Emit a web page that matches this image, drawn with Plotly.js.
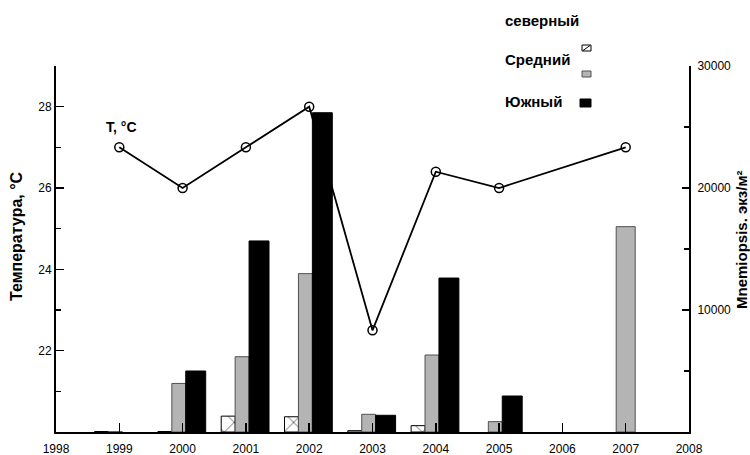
<!DOCTYPE html>
<html><head><meta charset="utf-8">
<script src="https://cdn.plot.ly/plotly-3.0.1.min.js"></script>
<style>html,body{margin:0;padding:0;background:#fff}</style>
</head><body><div id="chart" style="width:750px;height:455px"></div>
<script>
const years = [1999, 2000, 2001, 2002, 2003, 2004, 2005, 2006, 2007];
const seriesNames = ['северный', 'Средний', 'Южный'];
const northern = [40, 40, 1300, 1250, 110, 520, null, null, null];
const middle   = [20, 3980, 6170, 12980, 1450, 6310, 850, null, 16830];
const southern = [null, 5000, 15660, 26170, 1370, 12620, 2950, null, null];
const tempYears  = [1999, 2000, 2001, 2002, 2003, 2004, 2005, 2007];
const tempValues = [27, 26, 27, 28, 22.5, 26.4, 26, 27];
const xTicks = [1998, 1999, 2000, 2001, 2002, 2003, 2004, 2005, 2006, 2007, 2008];
const tempTicks = [22, 24, 26, 28];
const countTicks = [10000, 20000, 30000];
const tempLabel = 'T, °C';
const leftTitle = 'Температура, °C';
const rightTitle = 'Mnemiopsis. экз/м²';

const FONT = 'Liberation Sans, Arial, sans-serif';

// years with only the middle series get a centred, wider bar
const midOnly = years.map((y, i) => northern[i] == null && southern[i] == null);
const midWidth = midOnly.map(o => o ? 0.30 : 0.22);
const midOffset = midOnly.map(o => o ? -0.15 : -0.17);

const traces = [
  {type: 'bar', x: years, y: northern, name: seriesNames[0], yaxis: 'y', xaxis: 'x',
   width: 0.22, offset: -0.39,
   marker: {color: '#ffffff', line: {color: '#000', width: 1},
            pattern: {shape: 'x', size: 14, solidity: 0.08, fgcolor: '#000', bgcolor: '#fff'}}},
  {type: 'bar', x: years, y: middle, name: seriesNames[1], yaxis: 'y', xaxis: 'x',
   width: midWidth, offset: midOffset,
   marker: {color: '#b4b4b4', line: {color: '#505050', width: 1}}},
  {type: 'bar', x: years, y: southern, name: seriesNames[2], yaxis: 'y', xaxis: 'x',
   width: 0.315, offset: 0.05,
   marker: {color: '#000000', line: {color: '#000', width: 1}}},
  {type: 'scatter', mode: 'lines+markers', x: tempYears, y: tempValues, yaxis: 'y2', xaxis: 'x',
   line: {color: '#000', width: 1.8},
   marker: {symbol: 'circle-open', size: 9, color: '#000', line: {color: '#000', width: 1.5}},
   cliponaxis: false}
];

const X0 = 56, X1 = 689, Y0 = 66, Y1 = 432;
const px = v => (v - X0) / (X1 - X0);
const py = v => (Y1 - v) / (Y1 - Y0);

const legendBoxes = [
  {x0: 582, x1: 591, y0: 45, y1: 51, fill: '#fff', line: '#000', diag: true},
  {x0: 582, x1: 591, y0: 71, y1: 77, fill: '#b4b4b4', line: '#505050'},
  {x0: 580, x1: 591, y0: 99, y1: 107, fill: '#000', line: '#000'}
];
const legendText = [
  {x: 503, y: 20}, {x: 503, y: 60}, {x: 503, y: 101}
];

const shapes = [];
legendBoxes.forEach(b => {
  shapes.push({type: 'rect', xref: 'paper', yref: 'paper', x0: px(b.x0), x1: px(b.x1), y0: py(b.y1), y1: py(b.y0),
    fillcolor: b.fill, line: {color: b.line, width: 1}});
  if (b.diag) shapes.push({type: 'line', xref: 'paper', yref: 'paper', x0: px(b.x0 + 1), x1: px(b.x1 - 1), y0: py(b.y1 - 0.5), y1: py(b.y0 + 0.5),
    line: {color: '#000', width: 1}});
});

const annotations = seriesNames.map((n, i) => ({
  text: n, xref: 'paper', yref: 'paper', x: px(legendText[i].x), y: py(legendText[i].y),
  xanchor: 'left', yanchor: 'middle', showarrow: false,
  font: {family: FONT, size: 15, color: '#000', weight: 'bold'}
}));
annotations.push({text: tempLabel, xref: 'paper', yref: 'paper', x: px(104), y: py(127), xanchor: 'left', yanchor: 'middle',
  showarrow: false, font: {family: FONT, size: 14, color: '#000', weight: 'bold'}});
annotations.push({text: leftTitle, xref: 'paper', yref: 'paper', x: px(17), y: py(236), xanchor: 'center', yanchor: 'middle',
  textangle: -90, showarrow: false, font: {family: FONT, size: 16, color: '#000', weight: 'bold'}});
annotations.push({text: rightTitle, xref: 'paper', yref: 'paper', x: px(741), y: py(240), xanchor: 'center', yanchor: 'middle',
  textangle: -90, showarrow: false, font: {family: FONT, size: 15, color: '#000', weight: 'bold'}});

const tickFont = {family: FONT, size: 12, color: '#000'};

const layout = {
  width: 750, height: 455,
  margin: {l: X0, r: 750 - X1, t: Y0, b: 455 - Y1, pad: 0},
  paper_bgcolor: '#fff', plot_bgcolor: '#fff',
  showlegend: false,
  barmode: 'overlay',
  xaxis: {range: [1998, 2008], tickmode: 'array', tickvals: xTicks, ticks: 'inside', ticklen: 9, tickwidth: 1.5,
    tickcolor: '#000', showline: true, linecolor: '#000', linewidth: 2, showgrid: false, zeroline: false,
    tickfont: tickFont, anchor: 'y', ticklabelstandoff: 5},
  yaxis: {side: 'right', range: [0, 30000], tickmode: 'array', tickvals: countTicks, tickformat: 'd', ticks: 'inside', ticklen: 7,
    tickwidth: 1.5, tickcolor: '#000', showline: true, linecolor: '#000', linewidth: 2, showgrid: false,
    zeroline: false, tickfont: tickFont, ticklabelstandoff: 4,
    minor: {tickmode: 'array', tickvals: [5000, 15000, 25000], ticks: 'inside', ticklen: 5, tickwidth: 1.5, tickcolor: '#000', showgrid: false}},
  yaxis2: {overlaying: 'y', side: 'left', range: [20, 29], tickmode: 'array', tickvals: tempTicks, ticks: 'inside',
    ticklen: 8, tickwidth: 1.5, tickcolor: '#000', showline: true, linecolor: '#000', linewidth: 2, showgrid: false,
    zeroline: false, tickfont: tickFont,
    minor: {tickmode: 'array', tickvals: [21, 23, 25, 27, 29], ticks: 'inside', ticklen: 5, tickwidth: 1.5, tickcolor: '#000', showgrid: false}},
  shapes: shapes,
  annotations: annotations
};

Plotly.newPlot('chart', traces, layout, {displayModeBar: false, staticPlot: true});
</script></body></html>
